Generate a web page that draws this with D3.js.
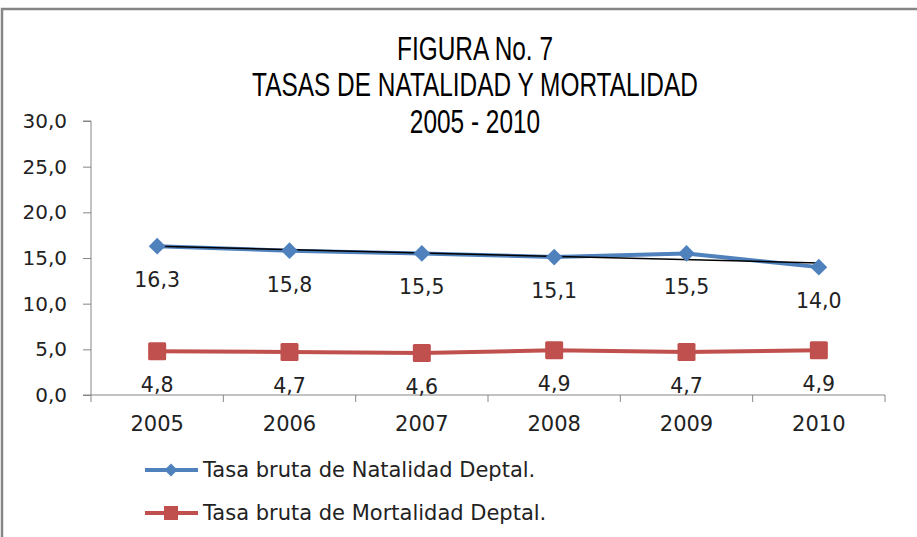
<!DOCTYPE html>
<html><head><meta charset="utf-8">
<script src="https://cdn.jsdelivr.net/npm/d3@7"></script>
<style>body{margin:0;background:#fff}svg{display:block}</style>
</head><body>
<svg id="c" width="917" height="537"></svg>
<script>
const years = ["2005","2006","2007","2008","2009","2010"];
const natalidad = [16.3, 15.8, 15.5, 15.1, 15.5, 14.0];
const mortalidad = [4.8, 4.7, 4.6, 4.9, 4.7, 4.9];
const yTicks = [0, 5, 10, 15, 20, 25, 30];
const titleLines = ["FIGURA No. 7", "TASAS DE NATALIDAD Y MORTALIDAD", "2005 - 2010"];
const seriesNames = ["Tasa bruta de Natalidad Deptal.", "Tasa bruta de Mortalidad Deptal."];

const svg = d3.select("#c");
const fmt = v => d3.format(".1f")(v).replace(".", ",");
const font = "DejaVu Sans";

// outer frame
svg.append("rect").attr("x", 2).attr("y", 9).attr("width", 930).attr("height", 560)
  .attr("fill", "none").attr("stroke", "#868686").attr("stroke-width", 2.5);

const x = d3.scaleBand().domain(years).range([91, 885]);
const y = d3.scaleLinear().domain([0, 30]).range([395, 121]);

// title (narrow face emulated by horizontal scaling)
const sx = 0.74;
const tt = svg.append("g").attr("transform", `scale(${sx},1)`).append("text")
  .attr("text-anchor", "middle")
  .attr("font-family", "Liberation Sans, Arial, sans-serif")
  .attr("font-size", 33).attr("fill", "#000");
titleLines.forEach((t, i) => tt.append("tspan").attr("x", 475 / sx).attr("y", 60 + i * 36.5).text(t));

// y axis
const ya = svg.append("g").attr("transform", "translate(91,0)")
  .call(d3.axisLeft(y).tickValues(yTicks).tickFormat(fmt).tickSize(8).tickPadding(16));
ya.selectAll("path,line").attr("stroke", "#868686");
ya.select(".domain").attr("d", "M-8,121H0V395H-8");
ya.selectAll("text").attr("font-family", font).attr("font-size", 20).attr("fill", "#222");

// x axis
const xa = svg.append("g").attr("transform", "translate(0,395)");
xa.append("line").attr("x1", 91).attr("x2", 885).attr("stroke", "#868686");
const bounds = years.map(d => x(d)).concat([x.range()[1]]);
xa.selectAll(".tk").data(bounds).join("line").attr("x1", d => d).attr("x2", d => d)
  .attr("y1", 0).attr("y2", 7).attr("stroke", "#868686");
xa.selectAll(".lb").data(years).join("text").attr("x", d => x(d) + x.bandwidth() / 2)
  .attr("y", 36).attr("text-anchor", "middle").attr("font-family", font)
  .attr("font-size", 21).attr("fill", "#222").text(d => d);

const cx = (d, i) => x(years[i]) + x.bandwidth() / 2;
const line = d3.line().x((d, i) => cx(d, i)).y(d => y(d));

// natalidad
svg.append("path").datum(natalidad).attr("d", line).attr("fill", "none")
  .attr("stroke", "#4F81BD").attr("stroke-width", 4).attr("stroke-linejoin", "round");
// linear trend of natalidad
const n = natalidad.length;
const mx = d3.mean(natalidad, (d, i) => i), my = d3.mean(natalidad);
const slope = d3.sum(natalidad, (d, i) => (i - mx) * (d - my)) / d3.sum(natalidad, (d, i) => (i - mx) ** 2);
const trend = natalidad.map((d, i) => my + slope * (i - mx));
svg.append("path").datum([trend[0], trend[n - 1]])
  .attr("d", d3.line().x((d, i) => cx(d, i * (n - 1))).y(d => y(d)))
  .attr("fill", "none").attr("stroke", "#000").attr("stroke-width", 1.5);
svg.selectAll(".dm").data(natalidad).join("path")
  .attr("d", d3.symbol(d3.symbolDiamond2, 180))
  .attr("transform", (d, i) => `translate(${cx(d, i)},${y(d)})`).attr("fill", "#4F81BD");

// mortalidad
svg.append("path").datum(mortalidad).attr("d", line).attr("fill", "none")
  .attr("stroke", "#C0504D").attr("stroke-width", 4);
svg.selectAll(".sq").data(mortalidad).join("rect")
  .attr("x", (d, i) => cx(d, i) - 9).attr("y", d => y(d) - 9)
  .attr("width", 18).attr("height", 18).attr("rx", 1.5).attr("fill", "#C0504D");

// data labels
[natalidad, mortalidad].forEach(s => {
  svg.append("g").selectAll("text").data(s).join("text")
    .attr("x", (d, i) => cx(d, i)).attr("y", d => y(d) + 41)
    .attr("text-anchor", "middle").attr("font-family", font).attr("font-size", 20.5)
    .attr("fill", "#222").text(fmt);
});

// legend
const colors = ["#4F81BD", "#C0504D"];
seriesNames.forEach((name, i) => {
  const ly = 470 + i * 43;
  const g = svg.append("g");
  g.append("line").attr("x1", 145).attr("x2", 198).attr("y1", ly).attr("y2", ly)
    .attr("stroke", colors[i]).attr("stroke-width", 4);
  if (i === 0) g.append("path").attr("d", d3.symbol(d3.symbolDiamond2, 110))
    .attr("transform", `translate(171,${ly})`).attr("fill", colors[i]);
  else g.append("rect").attr("x", 164).attr("y", ly - 7).attr("width", 14).attr("height", 14).attr("fill", colors[i]);
  g.append("text").attr("x", 203).attr("y", ly + 7).attr("font-family", font)
    .attr("font-size", 21).attr("fill", "#222").text(name);
});
</script>
</body></html>
